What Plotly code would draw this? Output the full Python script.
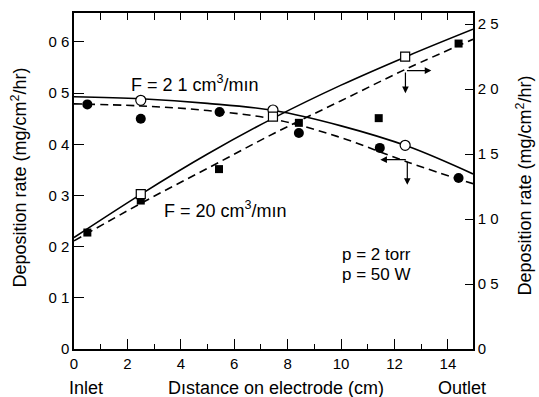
import plotly.graph_objects as go

# Measured deposition rates along the electrode
# Circles -> left axis, squares -> right axis
# Open markers: F = 2.1 cm3/min, filled markers: F = 20 cm3/min
circ_open_x = [2.5, 7.45, 12.4]
circ_open_y = [0.486, 0.467, 0.398]
circ_fill_x = [0.5, 2.5, 5.45, 8.42, 11.45, 14.4]
circ_fill_y = [0.478, 0.450, 0.463, 0.422, 0.393, 0.334]

sq_open_x = [2.5, 7.45, 12.4]
sq_open_y = [1.191, 1.788, 2.249]
sq_fill_x = [0.5, 2.5, 5.43, 8.42, 11.41, 14.4]
sq_fill_y = [0.896, 1.142, 1.384, 1.74, 1.776, 2.35]

# Smoothed trend curves (knots)
fit_x = [0, 2.5, 5, 7.5, 10, 12.5, 14.94]
fit21_circ = [0.493, 0.489, 0.480, 0.466, 0.436, 0.396, 0.342]
fit20_circ = [0.479, 0.475, 0.466, 0.449, 0.413, 0.365, 0.323]
fit21_sq = [0.858, 1.19, 1.50, 1.78, 2.03, 2.255, 2.46]
fit20_sq = [0.832, 1.12, 1.39, 1.66, 1.91, 2.16, 2.383]

# Axis ticks
x_ticks = [0, 2, 4, 6, 8, 10, 12, 14]
left_ticks = [0, 0.1, 0.2, 0.3, 0.4, 0.5, 0.6]
left_text = ["0", "0 1", "0 2", "0 3", "0 4", "0 5", "0 6"]
right_ticks = [0, 0.5, 1.0, 1.5, 2.0, 2.5]
right_text = ["0", "0 5", "1 0", "1 5", "2 0", "2 5"]
top_ticks = list(range(0, 15))

FONT = "Liberation Sans, Arial, sans-serif"
BLACK = "black"
LW = 1.6
DASH = "8px,5px"

fig = go.Figure()

# trend curves
fig.add_trace(go.Scatter(x=fit_x, y=fit21_circ, mode="lines", line=dict(color=BLACK, width=LW, shape="spline"),
                         yaxis="y", showlegend=False, hoverinfo="skip"))
fig.add_trace(go.Scatter(x=fit_x, y=fit20_circ, mode="lines", line=dict(color=BLACK, width=LW, dash=DASH, shape="spline"),
                         yaxis="y", showlegend=False, hoverinfo="skip"))
fig.add_trace(go.Scatter(x=fit_x, y=fit21_sq, mode="lines", line=dict(color=BLACK, width=LW, shape="spline"),
                         yaxis="y2", showlegend=False, hoverinfo="skip"))
fig.add_trace(go.Scatter(x=fit_x, y=fit20_sq, mode="lines", line=dict(color=BLACK, width=LW, dash=DASH, shape="spline"),
                         yaxis="y2", showlegend=False, hoverinfo="skip"))

# markers
fig.add_trace(go.Scatter(x=sq_fill_x, y=sq_fill_y, mode="markers", yaxis="y2", showlegend=False,
                         marker=dict(symbol="square", size=8, color=BLACK, line=dict(width=0))))
fig.add_trace(go.Scatter(x=sq_open_x, y=sq_open_y, mode="markers", yaxis="y2", showlegend=False,
                         marker=dict(symbol="square", size=9, color="white", line=dict(color=BLACK, width=1.2))))
fig.add_trace(go.Scatter(x=circ_fill_x, y=circ_fill_y, mode="markers", yaxis="y", showlegend=False,
                         marker=dict(symbol="circle", size=10, color=BLACK, line=dict(width=0))))
fig.add_trace(go.Scatter(x=circ_open_x, y=circ_open_y, mode="markers", yaxis="y", showlegend=False,
                         marker=dict(symbol="circle", size=10, color="white", line=dict(color=BLACK, width=1.2))))

# invisible trace to carry the top axis
fig.add_trace(go.Scatter(x=[0], y=[0], xaxis="x2", yaxis="y", mode="markers",
                         marker=dict(opacity=0), showlegend=False, hoverinfo="skip"))

axis_common = dict(showgrid=False, zeroline=False, showline=True, linecolor=BLACK, linewidth=1.5,
                   ticks="inside", tickcolor=BLACK, tickwidth=1.3,
                   tickfont=dict(family=FONT, size=15, color=BLACK))

fig.update_layout(
    width=539, height=397,
    margin=dict(l=74, r=66, t=13, b=48),
    paper_bgcolor="white", plot_bgcolor="white",
    font=dict(family=FONT, size=18, color=BLACK),
    xaxis=dict(range=[0, 14.94], tickvals=x_ticks, ticklen=10,
               minor=dict(ticks="inside", dtick=1, tick0=0, ticklen=5, tickcolor=BLACK, tickwidth=1.2),
               **axis_common),
    xaxis2=dict(range=[0, 14.94], overlaying="x", side="top", anchor="y", tickvals=top_ticks,
                ticklen=7, showticklabels=False, **axis_common),
    yaxis=dict(range=[0, 0.6566], tickvals=left_ticks, ticktext=left_text, ticklen=10, **axis_common),
    yaxis2=dict(range=[0, 2.585], tickvals=right_ticks, ticktext=right_text, ticklen=8,
                overlaying="y", side="right", anchor="x", **axis_common),
)

annotations = []

def txt(text, x, y, xanchor="center", textangle=0, size=18):
    annotations.append(dict(text=text, x=x, y=y, xref="paper", yref="paper", xanchor=xanchor, yanchor="middle",
                            showarrow=False, textangle=textangle, borderpad=0,
                            font=dict(family=FONT, size=size, color=BLACK)))

# pixel -> paper helpers for the 399 x 336 plot area
def px(xp):
    return (xp - 74.3) / 399.0

def py(yp):
    return (349.3 - yp) / 336.3

txt("F = 2 1 cm<sup>3</sup>/mın", px(130), py(84), xanchor="left")
txt("F = 20 cm<sup>3</sup>/mın", px(163), py(210), xanchor="left")
txt("p = 2 torr", px(341), py(255), xanchor="left", size=17)
txt("p = 50 W", px(341), py(275), xanchor="left", size=17)
txt("Inlet", px(86), py(388))
txt("Dıstance on electrode (cm)", px(276), py(388))
txt("Outlet", px(462), py(388))
txt("Deposition rate (mg/cm<sup>2</sup>/hr)", px(20), py(178), textangle=-90)
txt("Deposition rate (mg/cm<sup>2</sup>/hr)", px(525), py(186), textangle=-90)

fig.update_layout(annotations=annotations)

# L-shaped arrows pointing to the relevant axis (drawn as line shapes with small heads)
def seg(x0, y0, x1, y1):
    fig.add_shape(type="line", x0=x0, y0=y0, x1=x1, y1=y1, xref="x", yref="y",
                  line=dict(color=BLACK, width=1.2))

def head(x0, y0, x1, y1):
    fig.add_annotation(x=x1, y=y1, ax=x0, ay=y0, xref="x", yref="y", axref="x", ayref="y",
                       showarrow=True, arrowhead=2, arrowsize=1.1, arrowwidth=1.2,
                       arrowcolor=BLACK, text=" ", font=dict(size=1))

for (cx, cy, hx, vy) in [(12.41, 0.544, 13.38, 0.500), (12.48, 0.370, 11.47, 0.321)]:
    head(cx, cy, hx, cy)
    head(cx, cy, cx, vy)

fig.write_html("out.html")
